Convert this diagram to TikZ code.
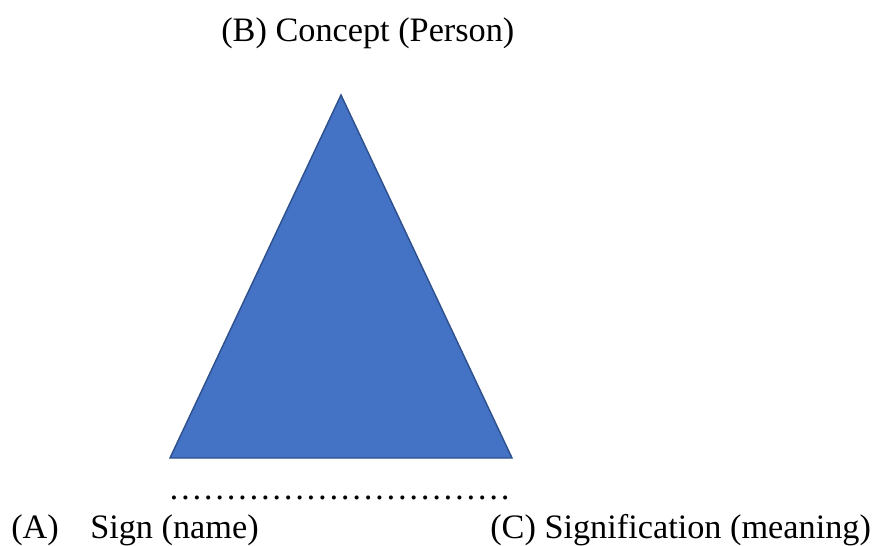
\documentclass[tikz,border=0pt]{standalone}
\usepackage{fontspec}
\setmainfont{Liberation Serif}
\definecolor{trifill}{HTML}{4472C4}
\definecolor{triline}{HTML}{2F528F}
\begin{document}
\begin{tikzpicture}[x=0.75pt,y=-0.75pt,
  lbl/.style={anchor=base west,inner sep=0pt,font=\fontsize{25.7}{30}\selectfont},
  tri/.style={fill=trifill,draw=triline,line width=1.1pt,line join=miter}]
\useasboundingbox (0,0) rectangle (875,546);
\coordinate (apex) at (341,95);
\coordinate (bl) at (170,458);
\coordinate (br) at (512,458);
\draw[tri] (apex) -- (br) -- (bl) -- cycle;
\node[lbl] (b) at (221,41) {(B) Concept (Person)};
\node[lbl] (dots) at (168,499) {…%
…%
…%
…%
…%
…%
…%
…%
…%
…};
\node[lbl] (a) at (11,538) {(A)};
\node[lbl] (sign) at (90,538) {Sign (name)};
\node[lbl] (c) at (490,538) {(C) Signification (meaning)};
\end{tikzpicture}
\end{document}
